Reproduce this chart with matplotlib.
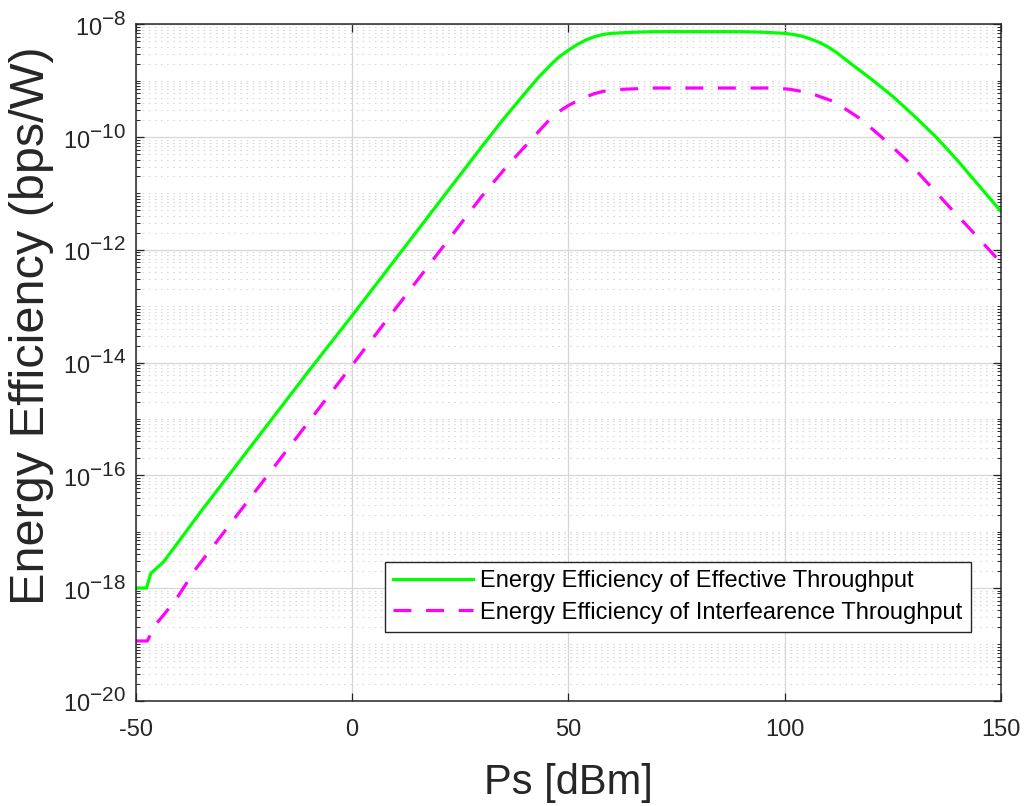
import numpy as np
import matplotlib
matplotlib.use("Agg")
import matplotlib.pyplot as plt
from matplotlib.ticker import FixedLocator, FuncFormatter
try:
    import matplotlib._mathtext as _mt
    _mt.SHRINK_FACTOR = 0.88
except Exception:
    pass

# ---- data ----
green_x = [-50, -47.5, -46.5, -43.6, -40, -35, -30, -20, -10, 0, 10, 20, 30, 35, 40,
           43, 46, 48, 50, 52, 54, 56, 58, 60, 65, 70, 80, 90, 95, 100, 102, 104, 106,
           108, 110, 112, 115, 120, 125, 130, 135, 140, 145, 150]
green_exp = [-18.0, -18.0, -17.74, -17.54, -17.17, -16.65, -16.15, -15.15, -14.15, -13.17,
             -12.17, -11.17, -10.17, -9.68, -9.22, -8.95, -8.71, -8.57, -8.46, -8.36,
             -8.28, -8.22, -8.18, -8.16, -8.14, -8.13, -8.13, -8.13, -8.14, -8.16, -8.18,
             -8.21, -8.26, -8.32, -8.4, -8.5, -8.68, -8.97, -9.28, -9.63, -10.0, -10.42,
             -10.87, -11.32]

mag_x = [-50, -47.3, -45.5, -41, -36, -30, -20, -10, 0, 10, 20, 30, 36, 41, 46, 48, 50,
         52, 54, 56, 58, 60, 70, 80, 90, 97, 101, 104, 107, 111, 114, 117.4, 122.4, 128.2,
         133.2, 138.2, 143.2, 150]
mag_exp = [-18.94, -18.94, -18.66, -18.24, -17.65, -17.05, -16.05, -15.05, -14.05, -13.05,
           -12.05, -11.05, -10.5, -10.08, -9.66, -9.54, -9.44, -9.36, -9.29, -9.23, -9.19,
           -9.16, -9.13, -9.13, -9.13, -9.13, -9.15, -9.19, -9.25, -9.36, -9.5, -9.67,
           -10.0, -10.41, -10.83, -11.25, -11.66, -12.23]

labels = ["Energy Efficiency of Effective Throughput",
          "Energy Efficiency of Interfearence Throughput"]
x_ticks = [-50, 0, 50, 100, 150]
y_tick_exps = [-20, -18, -16, -14, -12, -10, -8]

green_y = [10.0 ** e for e in green_exp]
mag_y = [10.0 ** e for e in mag_exp]

# ---- style ----
plt.rcParams['font.family'] = ['Liberation Sans', 'DejaVu Sans']
plt.rcParams['mathtext.fontset'] = 'custom'
plt.rcParams['mathtext.rm'] = 'Liberation Sans'
plt.rcParams['mathtext.it'] = 'Liberation Sans'
plt.rcParams['mathtext.default'] = 'regular'

fig = plt.figure(figsize=(10.27, 8.06), dpi=100)
ax = fig.add_axes([0.1321, 0.1306, 0.8426, 0.8392])

ax.plot(green_x, green_y, color='#00FF00', lw=2.3, label=labels[0])
ax.plot(mag_x, mag_y, color='#FF00FF', lw=2.3, dashes=(5.6, 4.6), label=labels[1])

ax.set_yscale('log')
ax.set_xlim(-50, 150)
ax.set_ylim(1e-20, 1e-8)

ax.xaxis.set_major_locator(FixedLocator(x_ticks))
ax.yaxis.set_major_locator(FixedLocator([10.0 ** e for e in y_tick_exps]))
minor = []
for d in range(-20, -8):
    for k in range(1, 10):
        if k == 1 and d % 2 == 0:
            continue
        minor.append(k * 10.0 ** d)
ax.yaxis.set_minor_locator(FixedLocator(minor))
ax.xaxis.set_minor_locator(FixedLocator([]))
ax.yaxis.set_major_formatter(FuncFormatter(lambda v, p: r'$10^{%d}$' % int(round(np.log10(v)))))
ax.yaxis.set_minor_formatter(FuncFormatter(lambda v, p: ''))
ax.set_xticklabels([str(t) for t in x_ticks])

ax.tick_params(axis='both', which='both', direction='in', top=True, right=True,
               colors='#262626', labelcolor='#262626')
ax.tick_params(axis='both', which='major', length=6, width=0.9, labelsize=17)
ax.tick_params(axis='y', which='minor', length=3, width=0.7)
ax.tick_params(axis='x', which='major', pad=13)
ax.tick_params(axis='y', which='major', pad=7)

ax.grid(True, which='major', color='#d6d6d6', lw=0.9, ls='-')
ax.grid(True, which='minor', axis='y', color='#d9d9d9', lw=0.8, ls=(0, (1.5, 4)))
ax.set_axisbelow(True)

for s in ax.spines.values():
    s.set_linewidth(1.1)
    s.set_color('#262626')

ax.set_xlabel('Ps [dBm]', fontsize=30, color='#262626', labelpad=16)
ax.set_ylabel('Energy Efficiency (bps/W)', fontsize=35, color='#262626')
ax.yaxis.set_label_coords(-0.094, 0.554)

leg = ax.legend(loc='lower right', bbox_to_anchor=(0.9653, 0.1016), borderaxespad=0,
                fontsize=17, handlelength=3.4, handletextpad=0.3, borderpad=0.35,
                labelspacing=0.4, fancybox=False, framealpha=1, edgecolor='#262626')
leg.get_frame().set_linewidth(1.0)

fig.savefig('out.png', dpi=100)
